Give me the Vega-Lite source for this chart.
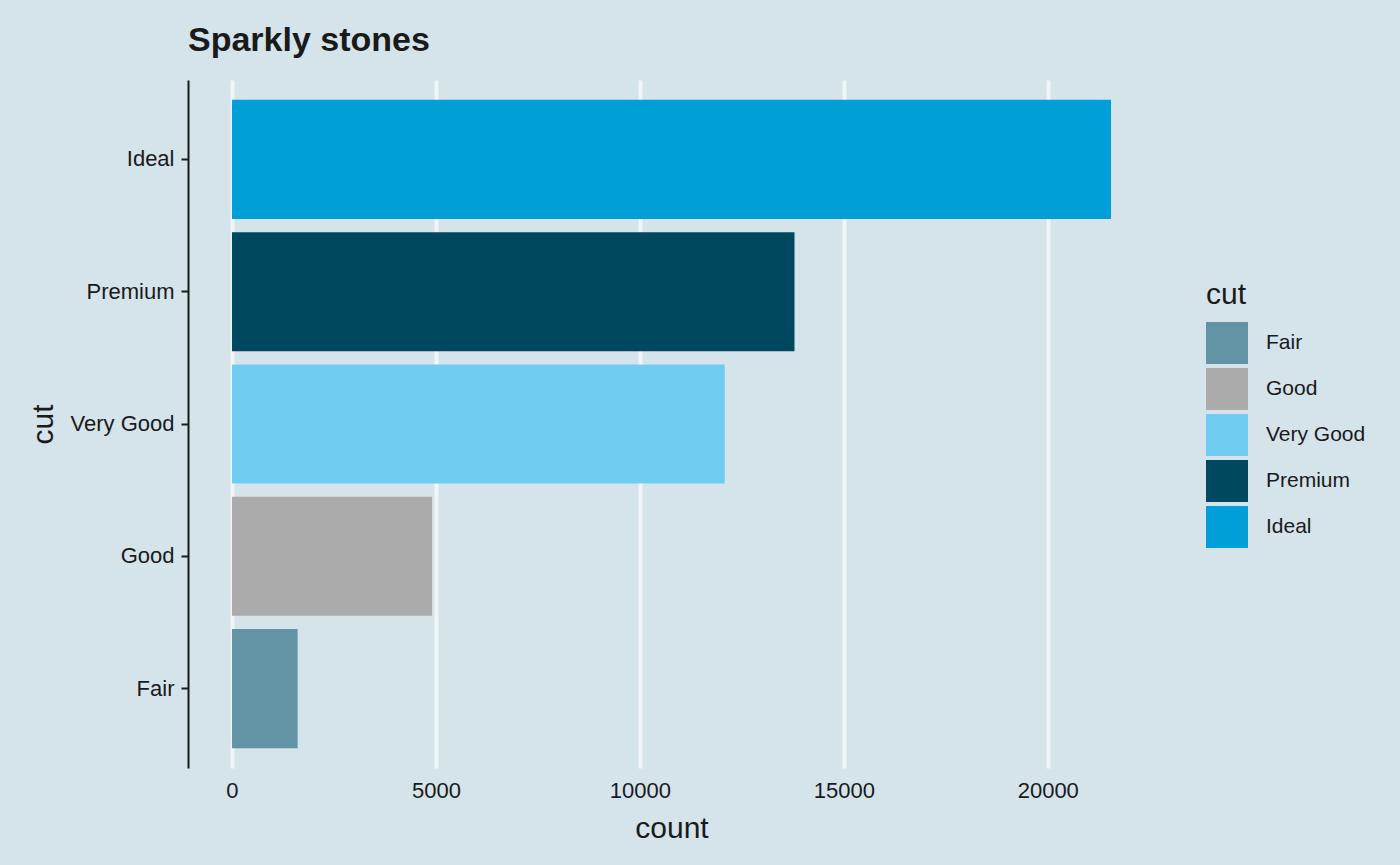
{
  "$schema": "https://vega.github.io/schema/vega-lite/v6.json",
  "autosize": "none",
  "width": 967,
  "height": 688,
  "padding": {"left": 188, "top": 80, "right": 245, "bottom": 97},
  "background": "#D5E3EB",
  "title": {
    "text": "Sparkly stones",
    "anchor": "start",
    "frame": "group",
    "fontSize": 34,
    "font": "Liberation Sans",
    "fontWeight": "bold",
    "color": "#1a1a1a",
    "offset": 22
  },
  "data": {
    "values": [
      {"cut": "Fair", "count": 1610},
      {"cut": "Good", "count": 4906},
      {"cut": "Very Good", "count": 12082},
      {"cut": "Premium", "count": 13791},
      {"cut": "Ideal", "count": 21551}
    ]
  },
  "mark": {"type": "bar"},
  "encoding": {
    "x": {
      "field": "count",
      "type": "quantitative",
      "title": "count",
      "scale": {"domain": [-1078, 22629], "nice": false, "zero": false},
      "axis": {
        "values": [0, 5000, 10000, 15000, 20000],
        "format": "d",
        "domain": false,
        "ticks": false,
        "grid": true,
        "gridColor": "#F2F5F7",
        "gridWidth": 4,
        "labelFontSize": 22,
        "labelPadding": 12,
        "titleFontSize": 30,
        "titleFontWeight": "normal",
        "titlePadding": 12
      }
    },
    "y": {
      "field": "cut",
      "type": "nominal",
      "title": "cut",
      "sort": ["Ideal", "Premium", "Very Good", "Good", "Fair"],
      "scale": {"paddingInner": 0.1, "paddingOuter": 0.15},
      "axis": {
        "domain": true,
        "domainColor": "#1a1a1a",
        "domainWidth": 2,
        "ticks": true,
        "tickColor": "#1a1a1a",
        "tickWidth": 2,
        "tickSize": 7,
        "grid": false,
        "labelFontSize": 22,
        "labelPadding": 7,
        "titleFontSize": 30,
        "titleFontWeight": "normal",
        "titlePadding": 12
      }
    },
    "color": {
      "field": "cut",
      "type": "nominal",
      "sort": ["Fair", "Good", "Very Good", "Premium", "Ideal"],
      "scale": {
        "domain": ["Fair", "Good", "Very Good", "Premium", "Ideal"],
        "range": ["#6394A6", "#ABABAB", "#6FCDF2", "#00485F", "#009FD8"]
      },
      "legend": {
        "title": "cut",
        "orient": "none",
        "legendX": 1018,
        "legendY": 200,
        "titleFontSize": 30,
        "titleFontWeight": "normal",
        "titlePadding": 12,
        "labelFontSize": 21,
        "labelOffset": 18,
        "symbolType": "square",
        "symbolSize": 1764,
        "symbolStrokeWidth": 0,
        "rowPadding": 4
      }
    }
  },
  "config": {
    "font": "Liberation Sans",
    "view": {"stroke": null},
    "axis": {"labelColor": "#1a1a1a", "titleColor": "#1a1a1a"},
    "legend": {"labelColor": "#1a1a1a", "titleColor": "#1a1a1a"}
  }
}
